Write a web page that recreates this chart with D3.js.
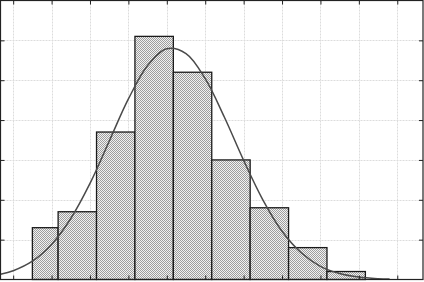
<!DOCTYPE html>
<html>
<head>
<meta charset="utf-8">
<script src="https://cdn.jsdelivr.net/npm/d3@7"></script>
<style>
  body { margin: 0; background: #fff; }
  svg { display: block; }
</style>
</head>
<body>
<div id="chart"></div>
<script>
var svgWidth = 424;
var svgHeight = 282;

// histogram bins (left edges / right edges) and heights
var binStarts = [0.5, 1.17, 2.17, 3.17, 4.17, 5.17, 6.17, 7.17, 8.17];
var binEnds = [1.17, 2.17, 3.17, 4.17, 5.17, 6.17, 7.17, 8.17, 9.17];
var binValues = [1.3, 1.7, 3.7, 6.1, 5.2, 3.0, 1.8, 0.8, 0.2];

// fitted curve
var curveX = [-0.33, 0, 0.5, 1, 1.5, 2, 2.5, 3, 3.5, 4, 4.5, 5, 5.5, 6, 6.5, 7, 7.5, 8, 8.5, 9, 9.5, 9.8];
var curveY = [0.13, 0.22, 0.46, 0.88, 1.53, 2.41, 3.47, 4.53, 5.37, 5.79, 5.67, 5.04, 4.07, 2.99, 2.0, 1.21, 0.67, 0.33, 0.15, 0.06, 0.02, 0.01];

var xTicks = [0, 1, 2, 3, 4, 5, 6, 7, 8, 9, 10];
var yTicks = [1, 2, 3, 4, 5, 6];

var svg = d3.select("#chart")
  .append("svg")
  .attr("width", svgWidth)
  .attr("height", svgHeight);

var plotLeft = 0.5, plotRight = 423, plotTop = 0.5, plotBottom = 279.5;

var xScale = d3.scaleLinear()
  .domain([-0.33, 10.67])
  .range([plotLeft, plotRight]);

var yScale = d3.scaleLinear()
  .domain([0, 7])
  .range([plotBottom, plotTop]);

// checker fill
var defs = svg.append("defs");
var pat = defs.append("pattern")
  .attr("id", "checker")
  .attr("width", 2)
  .attr("height", 2)
  .attr("patternUnits", "userSpaceOnUse");
pat.append("rect").attr("width", 2).attr("height", 2).attr("fill", "#f2f2f2");
pat.append("rect").attr("width", 1).attr("height", 1).attr("fill", "#9e9e9e");
pat.append("rect").attr("x", 1).attr("y", 1).attr("width", 1).attr("height", 1).attr("fill", "#9e9e9e");

// grid
svg.append("g")
  .selectAll("line")
  .data(xTicks)
  .enter()
  .append("line")
  .attr("x1", d => Math.round(xScale(d)) + 0.5)
  .attr("x2", d => Math.round(xScale(d)) + 0.5)
  .attr("y1", plotTop)
  .attr("y2", plotBottom)
  .attr("stroke", "#dcdcdc")
  .attr("stroke-dasharray", "2,1");

svg.append("g")
  .selectAll("line")
  .data(yTicks)
  .enter()
  .append("line")
  .attr("y1", d => Math.round(yScale(d)) + 0.5)
  .attr("y2", d => Math.round(yScale(d)) + 0.5)
  .attr("x1", plotLeft)
  .attr("x2", plotRight)
  .attr("stroke", "#dcdcdc")
  .attr("stroke-dasharray", "2,1");

// bars
svg.append("g")
  .selectAll("rect")
  .data(binValues)
  .enter()
  .append("rect")
  .attr("x", (d, i) => xScale(binStarts[i]))
  .attr("width", (d, i) => xScale(binEnds[i]) - xScale(binStarts[i]))
  .attr("y", d => yScale(d))
  .attr("height", d => plotBottom - yScale(d))
  .attr("fill", "url(#checker)")
  .attr("stroke", "#1a1a1a")
  .attr("stroke-width", 1.3);

// curve
var line = d3.line()
  .x(d => xScale(d[0]))
  .y(d => yScale(d[1]))
  .curve(d3.curveCatmullRom);

svg.append("path")
  .datum(curveX.map((v, i) => [v, curveY[i]]))
  .attr("d", line)
  .attr("fill", "none")
  .attr("stroke", "#4a4a4a")
  .attr("stroke-width", 1.5);

// axes with inward ticks on all sides
svg.append("g")
  .attr("transform", `translate(0, ${plotBottom})`)
  .call(d3.axisBottom(xScale).tickValues(xTicks).tickSizeInner(-4).tickSizeOuter(0).tickFormat(""));
svg.append("g")
  .attr("transform", `translate(0, ${plotTop})`)
  .call(d3.axisTop(xScale).tickValues(xTicks).tickSizeInner(-4).tickSizeOuter(0).tickFormat(""));
svg.append("g")
  .attr("transform", `translate(${plotLeft}, 0)`)
  .call(d3.axisLeft(yScale).tickValues(yTicks).tickSizeInner(-4).tickSizeOuter(0).tickFormat(""));
svg.append("g")
  .attr("transform", `translate(${plotRight}, 0)`)
  .call(d3.axisRight(yScale).tickValues(yTicks).tickSizeInner(-4).tickSizeOuter(0).tickFormat(""));

svg.selectAll(".domain").remove();
svg.selectAll(".tick line").attr("stroke", "#222");

// frame
svg.append("rect")
  .attr("x", plotLeft)
  .attr("y", plotTop)
  .attr("width", plotRight - plotLeft)
  .attr("height", plotBottom - plotTop)
  .attr("fill", "none")
  .attr("stroke", "#222")
  .attr("stroke-width", 1.2);
</script>
</body>
</html>
